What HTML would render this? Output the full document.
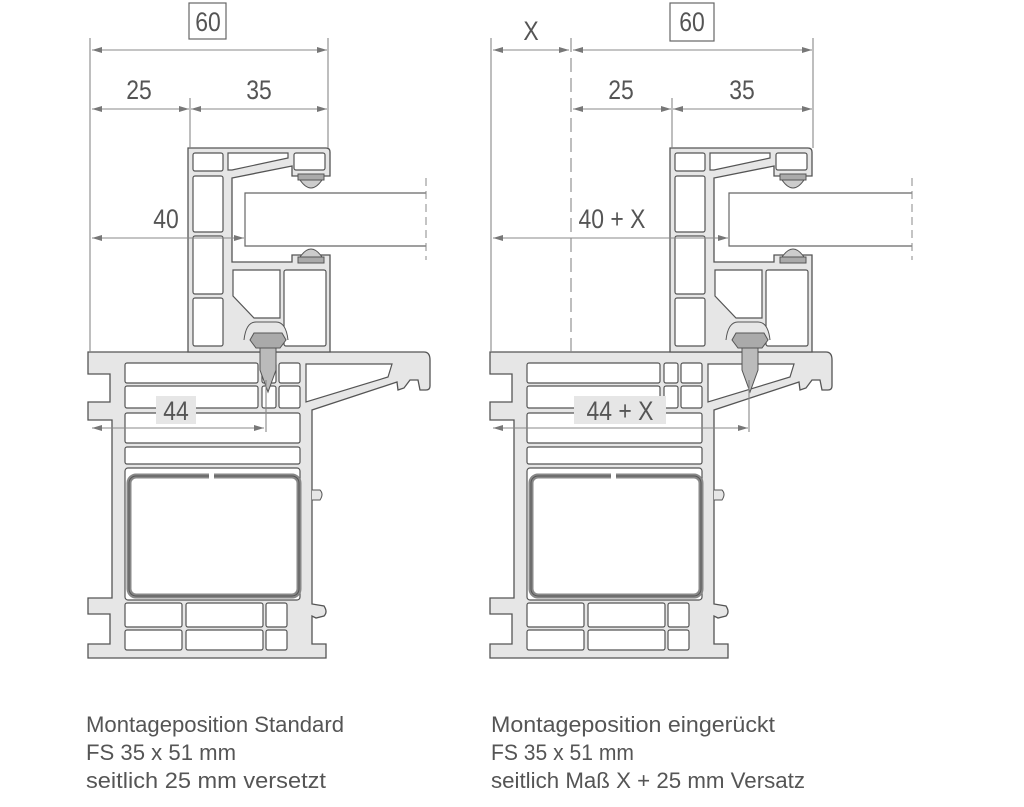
<!DOCTYPE html>
<html><head><meta charset="utf-8"><style>
html,body{margin:0;padding:0;background:#fff}
svg{display:block}
text{font-family:"Liberation Sans",sans-serif;fill:#555}
</style></head><body>
<svg width="1024" height="807" viewBox="0 0 1024 807" xmlns="http://www.w3.org/2000/svg">
<defs>
<marker id="a" viewBox="0 0 10 6" refX="10" refY="3" markerWidth="10" markerHeight="6" orient="auto-start-reverse" markerUnits="userSpaceOnUse"><path d="M0,0L10,3L0,6Z" fill="#777"/></marker>
<g id="frame">
<path d="M88,352H424Q430,352 430,360V386Q430,390 426,390H420L418,380L410,380L404,388L398,390L397,382L312,410V604L324,606Q328,612 324,616L316,618L312,616V644H326V658H88V644H110V614H88V598H112V420H88V402H110V374H88Z" fill="#e6e6e6" stroke="#555" stroke-width="1.3"/>
<g fill="#fff" stroke="#555" stroke-width="1.2">
<rect x="125" y="363" width="133" height="20" rx="2"/>
<rect x="262" y="363" width="14" height="20" rx="2"/>
<rect x="279" y="363" width="21" height="20" rx="2"/>
<path d="M306,364H392L388,377L306,402Z"/>
<rect x="125" y="386" width="133" height="22" rx="2"/>
<rect x="262" y="386" width="14" height="22" rx="2"/>
<rect x="279" y="386" width="21" height="22" rx="2"/>
<rect x="125" y="413" width="175" height="30" rx="2"/>
<rect x="125" y="447" width="175" height="17" rx="2"/>
<rect x="125" y="468" width="175" height="132" rx="3"/>
<rect x="125" y="603" width="57" height="24" rx="2"/>
<rect x="186" y="603" width="77" height="24" rx="2"/>
<rect x="266" y="603" width="21" height="24" rx="2"/>
<rect x="125" y="630" width="57" height="20" rx="2"/>
<rect x="186" y="630" width="77" height="20" rx="2"/>
<rect x="266" y="630" width="21" height="20" rx="2"/>
</g>
<rect x="129" y="476" width="170" height="120" rx="7" fill="none" stroke="#888" stroke-width="5"/>
<rect x="129" y="476" width="170" height="120" rx="7" fill="none" stroke="#555" stroke-width="1"/>
<rect x="209" y="470" width="5" height="10" fill="#fff"/>
<path d="M312,490h8q4,4 0,10h-8" fill="#e6e6e6" stroke="#555"/>
</g>
<g id="sash">
<path d="M188,148H326Q330,148 330,152V176H292V166L232,178V262H292V255H330V352H188Z" fill="#e6e6e6" stroke="#555" stroke-width="1.3"/>
<g fill="#fff" stroke="#555" stroke-width="1.2">
<rect x="193" y="153" width="30" height="18" rx="2"/>
<path d="M228,153H288V158L232,170H228Z"/>
<rect x="294" y="153" width="31" height="17" rx="2"/>
<rect x="193" y="176" width="30" height="56" rx="2"/>
<rect x="193" y="236" width="30" height="58" rx="2"/>
<rect x="193" y="298" width="30" height="48" rx="2"/>
<path d="M233,270H280V318H254L233,296Z"/>
<rect x="284" y="270" width="42" height="76" rx="2"/>
</g>
<path d="M244,340Q246,322 256,322H276Q286,322 288,340" fill="#e6e6e6" stroke="#555"/>
<path d="M254,333H282L286,340L280,348H256L250,340Z" fill="#aaa" stroke="#555"/>
<path d="M260,348H276V370L268,392L260,370Z" fill="#bbb" stroke="#555"/>
<rect x="298" y="174" width="26" height="6" fill="#aaa" stroke="#555"/>
<path d="M300,180Q311,196 322,180Z" fill="#ccc" stroke="#555"/>
<rect x="298" y="257" width="26" height="6" fill="#aaa" stroke="#555"/>
<path d="M300,257Q311,241 322,257Z" fill="#ccc" stroke="#555"/>
</g>
</defs>

<use href="#frame"/>
<use href="#sash"/>
<path d="M426,193H245V246H426" fill="#fff" stroke="#666" stroke-width="1.2"/>
<line x1="426" y1="178" x2="426" y2="260" stroke="#888" stroke-dasharray="8,5"/>
<g stroke="#888" stroke-width="1.1" fill="none">
<line x1="90" y1="38" x2="90" y2="352"/>
<line x1="328" y1="38" x2="328" y2="148"/>
<line x1="190" y1="98" x2="190" y2="148"/>
<line x1="92" y1="50" x2="327" y2="50" marker-start="url(#a)" marker-end="url(#a)"/>
<line x1="92" y1="109" x2="189" y2="109" marker-start="url(#a)" marker-end="url(#a)"/>
<line x1="191" y1="109" x2="327" y2="109" marker-start="url(#a)" marker-end="url(#a)"/>
<line x1="92" y1="238" x2="244" y2="238" marker-start="url(#a)" marker-end="url(#a)"/>
<line x1="92" y1="428" x2="264" y2="428" marker-start="url(#a)" marker-end="url(#a)"/>
<line x1="266" y1="380" x2="266" y2="432"/>
</g>
<rect x="189" y="3" width="37" height="36" fill="#fff" stroke="#666" stroke-width="1.2"/>
<g font-size="27" text-anchor="middle">
<text x="208" y="31" transform="translate(208 0) scale(.85 1) translate(-208 0)">60</text>
<text x="139" y="99" transform="translate(139 0) scale(.85 1) translate(-139 0)">25</text>
<text x="259" y="99" transform="translate(259 0) scale(.85 1) translate(-259 0)">35</text>
<text x="166" y="228" transform="translate(166 0) scale(.85 1) translate(-166 0)">40</text>
</g>
<rect x="156" y="396" width="40" height="28" fill="#e6e6e6"/>
<text x="176" y="420" font-size="27" text-anchor="middle" transform="translate(176 0) scale(.85 1) translate(-176 0)">44</text>

<use href="#frame" transform="translate(402 0)"/>
<use href="#sash" transform="translate(482 0)"/>
<path d="M912,193H729V246H912" fill="#fff" stroke="#666" stroke-width="1.2"/>
<line x1="912" y1="178" x2="912" y2="260" stroke="#888" stroke-dasharray="8,5"/>
<g stroke="#888" stroke-width="1.1" fill="none">
<line x1="491" y1="38" x2="491" y2="352"/>
<line x1="571" y1="38" x2="571" y2="352" stroke-dasharray="14,6"/>
<line x1="813" y1="38" x2="813" y2="148"/>
<line x1="672" y1="98" x2="672" y2="148"/>
<line x1="493" y1="50" x2="569" y2="50" marker-start="url(#a)" marker-end="url(#a)"/>
<line x1="573" y1="50" x2="812" y2="50" marker-start="url(#a)" marker-end="url(#a)"/>
<line x1="573" y1="109" x2="671" y2="109" marker-start="url(#a)" marker-end="url(#a)"/>
<line x1="673" y1="109" x2="812" y2="109" marker-start="url(#a)" marker-end="url(#a)"/>
<line x1="493" y1="238" x2="728" y2="238" marker-start="url(#a)" marker-end="url(#a)"/>
<line x1="493" y1="428" x2="748" y2="428" marker-start="url(#a)" marker-end="url(#a)"/>
<line x1="749" y1="380" x2="749" y2="432"/>
</g>
<rect x="670" y="3" width="44" height="38" fill="#fff" stroke="#666" stroke-width="1.2"/>
<g font-size="27" text-anchor="middle">
<text x="692" y="31" transform="translate(692 0) scale(.85 1) translate(-692 0)">60</text>
<text x="531" y="40" transform="translate(531 0) scale(.85 1) translate(-531 0)">X</text>
<text x="621" y="99" transform="translate(621 0) scale(.85 1) translate(-621 0)">25</text>
<text x="742" y="99" transform="translate(742 0) scale(.85 1) translate(-742 0)">35</text>
<text x="612" y="228" transform="translate(612 0) scale(.85 1) translate(-612 0)">40 + X</text>
</g>
<rect x="574" y="396" width="92" height="28" fill="#e6e6e6"/>
<text x="620" y="420" font-size="27" text-anchor="middle" transform="translate(620 0) scale(.85 1) translate(-620 0)">44 + X</text>

<g font-size="22" fill="#666">
<text x="86" y="732" textLength="258" lengthAdjust="spacingAndGlyphs">Montageposition Standard</text>
<text x="86" y="760" textLength="150" lengthAdjust="spacingAndGlyphs">FS 35 x 51 mm</text>
<text x="86" y="788" textLength="240" lengthAdjust="spacingAndGlyphs">seitlich 25 mm versetzt</text>
<text x="491" y="732" textLength="284" lengthAdjust="spacingAndGlyphs">Montageposition eingerückt</text>
<text x="491" y="760" textLength="143" lengthAdjust="spacingAndGlyphs">FS 35 x 51 mm</text>
<text x="491" y="788" textLength="314" lengthAdjust="spacingAndGlyphs">seitlich Maß X + 25 mm Versatz</text>
</g>
</svg>
</body></html>
